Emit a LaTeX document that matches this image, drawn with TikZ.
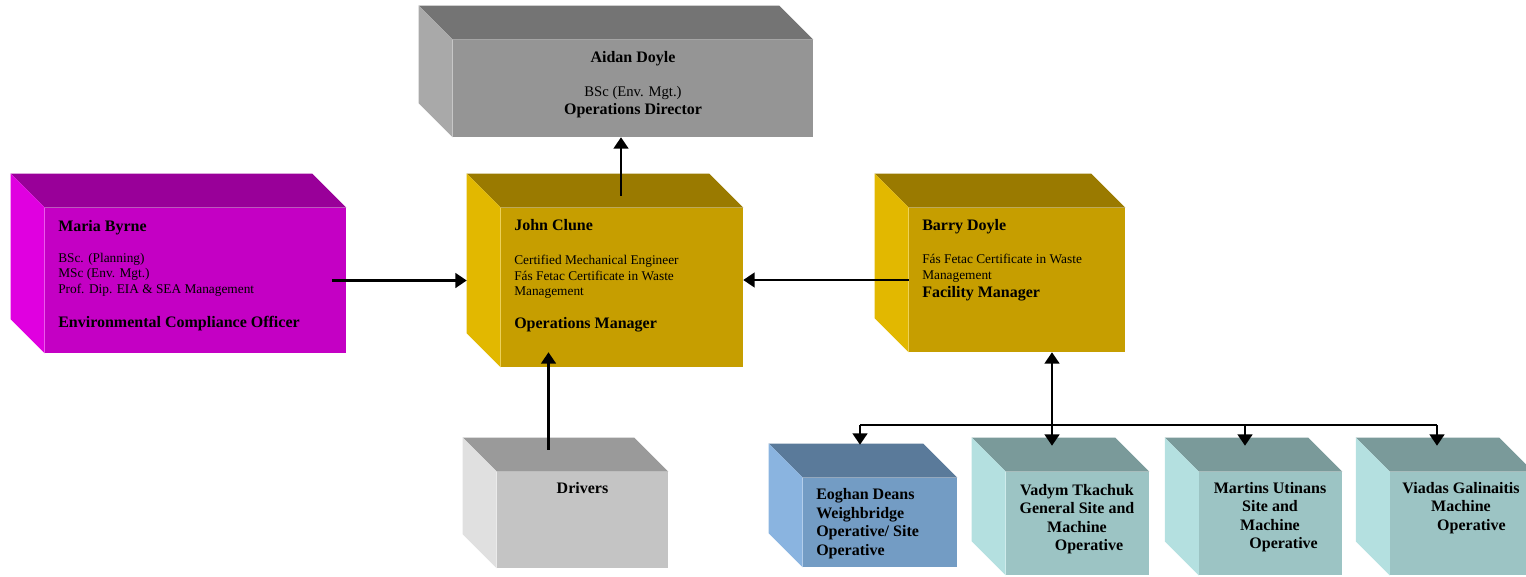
\documentclass[tikz,border=0pt]{standalone}
\usepackage{fontspec}
\setmainfont{Liberation Serif}
\usetikzlibrary{positioning, arrows.meta, calc, fit}
\definecolor{dirtop}{HTML}{747474}
\definecolor{dirside}{HTML}{A9A9A9}
\definecolor{dirfront}{HTML}{959595}
\definecolor{ecotop}{HTML}{990099}
\definecolor{ecoside}{HTML}{E000E0}
\definecolor{ecofront}{HTML}{C400C4}
\definecolor{mgrtop}{HTML}{9A7A00}
\definecolor{mgrside}{HTML}{E2B800}
\definecolor{mgrfront}{HTML}{C69E00}
\definecolor{drvtop}{HTML}{9A9A9A}
\definecolor{drvside}{HTML}{E0E0E0}
\definecolor{drvfront}{HTML}{C4C4C4}
\definecolor{wbtop}{HTML}{5A7A9A}
\definecolor{wbside}{HTML}{8AB4E0}
\definecolor{wbfront}{HTML}{739CC4}
\definecolor{optop}{HTML}{7A9A9A}
\definecolor{opside}{HTML}{B4E0E0}
\definecolor{opfront}{HTML}{9CC4C4}
\tikzset{
  face/.style={inner sep=0pt, draw=none},
  txt/.style={
    inner sep=0pt,
    anchor=north west,
    align=left,
    font=\fontsize{10}{11.5}\selectfont
  },
  ctxt/.style={
    inner sep=0pt,
    anchor=north,
    align=center,
    font=\fontsize{12}{13.8}\selectfont\bfseries
  },
  btxt/.style={
    inner sep=0pt,
    anchor=north west,
    align=left,
    font=\fontsize{12}{13.8}\selectfont\bfseries
  },
  line/.style={line width=1.8pt},
  link/.style={
    line width=1.8pt,
    -{Triangle[length=8.5pt,width=11pt]}
  },
  bilink/.style={
    line width=1.8pt,
    {Triangle[length=8.5pt,width=11pt]}-{Triangle[length=8.5pt,width=11pt]}
  }
}
% top and left faces of a box, drawn round its front node
\newcommand{\cubefaces}[3]{%
  \fill[#2] (#1.north west) -- ++(-34,-34) -- ($(#1.north east)+(-34,-34)$) -- (#1.north east) -- cycle;
  \fill[#3] (#1.north west) -- ++(-34,-34) -- ($(#1.south west)+(-34,-34)$) -- (#1.south west) -- cycle;
}
\newcommand{\hd}[1]{{\fontsize{12}{11.5}\selectfont\bfseries #1}}
\begin{document}
\begin{tikzpicture}[x=0.75pt, y=-0.75pt]
  \useasboundingbox (0,0) rectangle (1526,577);
  \clip (0,0) rectangle (1526,577);

  % front faces
  \node[face, fill=dirfront, fit={(453,40) (813,137)}] (aidan) {};
  \node[face, fill=ecofront, fit={(45,208) (346,353)}] (maria) {};
  \node[face, fill=mgrfront, fit={(501,208) (743,367)}] (john) {};
  \node[face, fill=mgrfront, fit={(909,208) (1125,352)}] (barry) {};
  \node[face, fill=drvfront, fit={(497,472) (668,568)}] (drivers) {};
  \node[face, fill=wbfront, fit={(803,478) (957,567)}] (eoghan) {};
  \node[face, fill=opfront, fit={(1006,472) (1149,575)}] (vadym) {};
  \node[face, fill=opfront, fit={(1199,472) (1342,575)}] (martins) {};
  \node[face, fill=opfront, fit={(1390,472) (1533,575)}] (viadas) {};

  \cubefaces{aidan}{dirtop}{dirside}
  \cubefaces{maria}{ecotop}{ecoside}
  \cubefaces{john}{mgrtop}{mgrside}
  \cubefaces{barry}{mgrtop}{mgrside}
  \cubefaces{drivers}{drvtop}{drvside}
  \cubefaces{eoghan}{wbtop}{wbside}
  \cubefaces{vadym}{optop}{opside}
  \cubefaces{martins}{optop}{opside}
  \cubefaces{viadas}{optop}{opside}

  % texts
  \node[ctxt] (aidan-txt) at (633,51.2) {Aidan Doyle\\[11.7pt]
    {\fontsize{11}{11.5}\selectfont\mdseries BSc (Env. Mgt.)}\\[-0.3pt]
    Operations Director};
  \node[txt] (maria-txt) at (58,220) {\hd{Maria Byrne}\\[11.75pt]
    BSc. (Planning)\\
    MSc (Env. Mgt.)\\
    Prof. Dip. EIA \& SEA Management\\[14.5pt]
    \hd{Environmental Compliance Officer}};
  \node[txt] (john-txt) at (514,219.2) {\hd{John Clune}\\[14.2pt]
    Certified Mechanical Engineer\\
    Fás Fetac Certificate in Waste\\
    Management\\[13.5pt]
    \hd{Operations Manager}};
  \node[txt] (barry-txt) at (922,219.2) {\hd{Barry Doyle}\\[13.5pt]
    Fás Fetac Certificate in Waste\\
    Management\\[2.3pt]
    \hd{Facility Manager}};
  \node[ctxt] (drivers-txt) at (582.5,482.5) {Drivers};
  \node[btxt] (eoghan-txt) at (816,488.5) {Eoghan Deans\\ Weighbridge\\ Operative/ Site\\ Operative};
  \node[ctxt] (vadym-txt) at (1077,484.2) {Vadym Tkachuk\\ General Site and\\ Machine\\ \hspace*{1.5em}Operative};
  \node[ctxt] (martins-txt) at (1270,482) {Martins Utinans\\ Site and\\ Machine\\ \hspace*{1.7em}Operative};
  \node[ctxt] (viadas-txt) at (1461,482) {Viadas Galinaitis\\ Machine\\ \hspace*{1.3em}Operative};

  % connectors
  \draw[link] ($(john.north)+(-1,-12)$) -- ($(john.north |- aidan.south)+(-1,0)$);
  \draw[link] ($(maria.east)+(-14,0)$) -- ($(john.west |- maria.east)+(-34,0)$);
  \draw[link] (barry.west) -- (john.east |- barry.west);
  \draw[link] ($(drivers.north)+(-34,-22)$) -- ($(drivers.north |- john.south)+(-34,-15)$);

  \coordinate (bus) at (0,425);
  \coordinate (eoghan-in) at ($(eoghan.north)+(-20,-33)$);
  \coordinate (vadym-in) at ($(vadym.north)+(-25.5,-26)$);
  \coordinate (martins-in) at ($(martins.north)+(-25.5,-26)$);
  \coordinate (viadas-in) at ($(viadas.north)+(-24.5,-26)$);
  \draw[line] (eoghan-in |- bus) -- (viadas-in |- bus);
  \foreach \n in {eoghan, martins, viadas}
    \draw[link] (\n-in |- bus) -- (\n-in);
  \draw[bilink] (barry.south -| vadym-in) -- (vadym-in);
\end{tikzpicture}
\end{document}
